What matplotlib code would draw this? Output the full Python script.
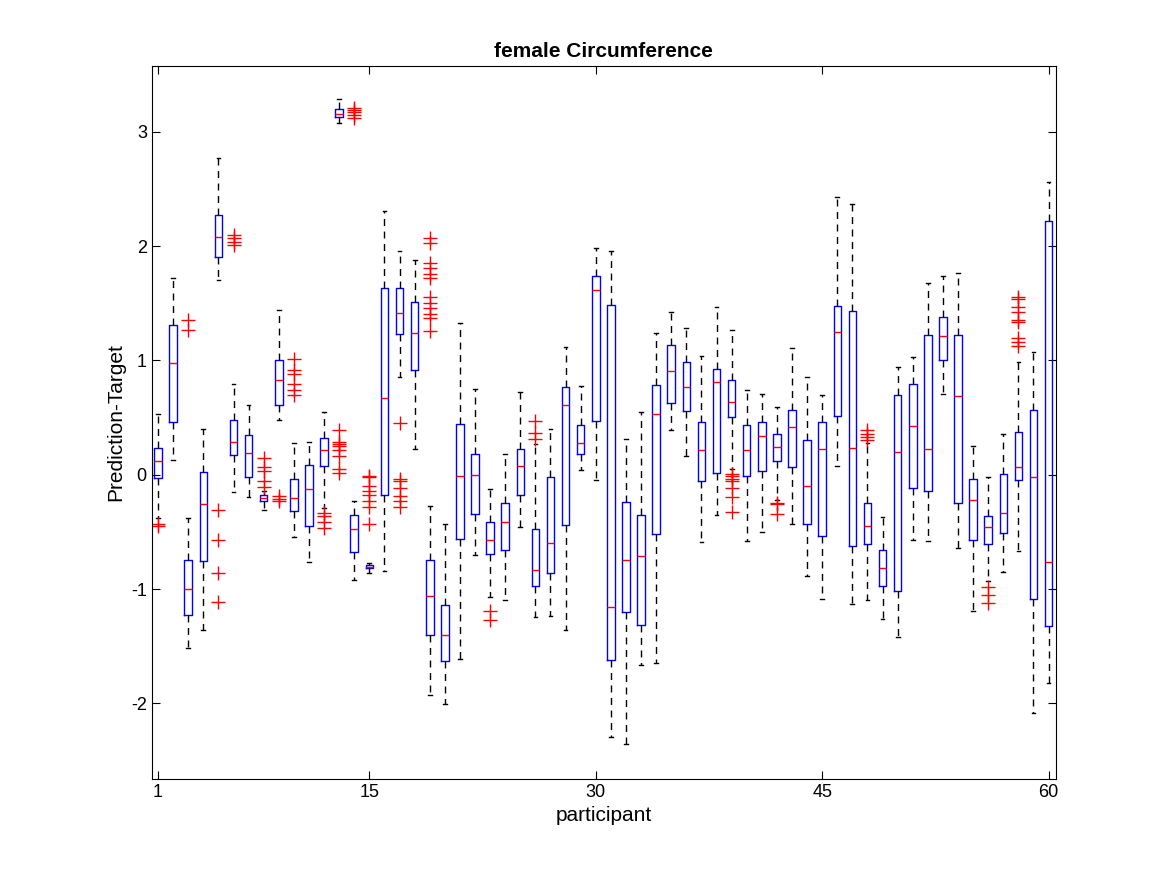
import matplotlib
matplotlib.use("Agg")
import matplotlib.pyplot as plt

plt.rcParams['font.family'] = ['Liberation Sans', 'DejaVu Sans']

# per participant: whisker low, q1, median, q3, whisker high
wlo = [-0.38,0.13,-1.515,-1.36,1.70,-0.154,-0.194,-0.31,0.478,-0.545,
       -0.76,-0.294,3.08,-0.92,-0.86,-0.846,0.853,0.224,-1.93,-2.01,
       -1.61,-0.70,-1.07,-1.093,-0.455,-1.246,-1.24,-1.36,0.043,-0.05,
       -2.296,-2.36,-1.667,-1.65,0.388,0.16,-0.588,-0.354,0.05,-0.583,
       -0.5,-0.22,-0.43,-0.89,-1.09,0.08,-1.13,-1.094,-1.26,-1.42,
       -0.57,-0.58,0.706,-0.644,-1.19,-0.93,-0.85,-0.666,-2.084,-1.82]
q1 = [-0.027,0.458,-1.23,-0.756,1.906,0.177,-0.023,-0.234,0.61,-0.318,
      -0.45,0.074,3.127,-0.68,-0.82,-0.174,1.23,0.92,-1.40,-1.63,
      -0.56,-0.345,-0.693,-0.658,-0.18,-0.977,-0.86,-0.44,0.18,0.47,
      -1.617,-1.197,-1.319,-0.519,0.626,0.557,-0.052,0.014,0.504,-0.012,
      0.03,0.122,0.072,-0.43,-0.54,0.516,-0.625,-0.61,-0.97,-1.02,
      -0.12,-0.14,1.006,-0.247,-0.57,-0.61,-0.506,-0.044,-1.088,-1.325]
med = [0.117,0.98,-1.0,-0.26,2.08,0.284,0.19,-0.207,0.833,-0.207,
       -0.124,0.217,3.16,-0.478,-0.81,0.676,1.415,1.244,-1.06,-1.40,
       -0.014,-0.006,-0.568,-0.417,0.075,-0.835,-0.6,0.61,0.278,1.617,
       -1.157,-0.748,-0.713,0.533,0.904,0.768,0.214,0.814,0.64,0.217,
       0.34,0.247,0.42,-0.1,0.228,1.25,0.23,-0.447,-0.82,0.203,
       0.425,0.222,1.21,0.69,-0.225,-0.46,-0.334,0.069,-0.016,-0.766]
q3 = [0.234,1.31,-0.746,0.02,2.27,0.475,0.348,-0.18,1.0,-0.033,
      0.084,0.324,3.2,-0.35,-0.79,1.63,1.635,1.515,-0.75,-1.137,
      0.443,0.18,-0.417,-0.25,0.223,-0.475,-0.017,0.765,0.435,1.74,
      1.484,-0.238,-0.35,0.788,1.136,0.983,0.464,0.928,0.826,0.432,
      0.46,0.356,0.566,0.306,0.46,1.475,1.43,-0.244,-0.66,0.697,
      0.79,1.225,1.38,1.225,-0.04,-0.36,0.01,0.375,0.566,2.22]
whi = [0.535,1.72,-0.378,0.40,2.77,0.79,0.61,-0.14,1.44,0.278,
       0.29,0.55,3.29,-0.234,-0.77,2.31,1.96,1.88,-0.27,-0.43,
       1.33,0.748,-0.128,0.18,0.72,0.27,0.397,1.12,0.78,1.98,
       1.96,0.31,0.55,1.24,1.42,1.28,1.04,1.467,1.264,0.742,
       0.71,0.59,1.11,0.853,0.694,2.43,2.37,0.28,-0.366,0.94,
       1.03,1.68,1.74,1.766,0.256,-0.02,0.356,0.984,1.075,2.56]
outliers = {
    1: [-0.435,-0.45],
    3: [1.355,1.27],
    5: [-0.31,-0.57,-0.86,-1.11],
    6: [2.1,2.07,2.04,2.01],
    8: [0.144,0.067,0.033,-0.057,-0.107],
    9: [-0.19,-0.21,-0.23],
    10: [1.01,0.913,0.88,0.796,0.746,0.696],
    12: [-0.334,-0.36,-0.41,-0.47],
    13: [0.39,0.29,0.27,0.25,0.22,0.167,0.05,0.017],
    14: [3.21,3.19,3.17,3.15,3.12],
    15: [-0.01,-0.02,-0.094,-0.14,-0.18,-0.23,-0.28,-0.43],
    17: [0.455,-0.04,-0.057,-0.117,-0.19,-0.234,-0.278],
    19: [2.07,2.03,1.856,1.81,1.76,1.72,1.555,1.5,1.46,1.41,1.37,1.26],
    23: [-1.19,-1.275],
    26: [0.47,0.365,0.313],
    39: [0.01,-0.014,-0.035,-0.055,-0.12,-0.194,-0.325],
    42: [-0.247,-0.26,-0.34],
    48: [0.39,0.36,0.33,0.3],
    56: [-0.98,-1.056,-1.12],
    58: [1.556,1.54,1.47,1.42,1.353,1.334,1.2,1.166,1.125],
}
xticks = [1, 15, 30, 45, 60]

stats = []
for i in range(60):
    stats.append(dict(whislo=wlo[i], q1=q1[i], med=med[i], q3=q3[i],
                      whishi=whi[i], fliers=outliers.get(i + 1, [])))

fig = plt.figure(figsize=(11.67, 8.75), dpi=100)
ax = fig.add_axes([0.13, 0.11, 0.775, 0.815])
ax.bxp(stats, positions=range(1, 61), widths=0.5, showfliers=True,
       boxprops=dict(color='#0000ff', linewidth=1.0),
       medianprops=dict(color='#ff0000', linewidth=1.0),
       whiskerprops=dict(color='black', linestyle=(0, (5, 4)), linewidth=1.0),
       capprops=dict(color='black', linewidth=1.0),
       capwidths=0.25,
       flierprops=dict(marker='+', markeredgecolor='#ff0000', markersize=10,
                       linestyle='none', markeredgewidth=1.0))
ax.set_xlim(0.58, 60.5)
ax.set_ylim(-2.66, 3.58)
ax.set_xticks(xticks)
ax.set_xticklabels([str(t) for t in xticks])
ax.set_yticks([-2, -1, 0, 1, 2, 3])
ax.set_yticklabels(['-2', '-1', '0', '1', '2', '3'])
ax.tick_params(direction='in', top=True, right=True, labelsize=13, length=6)
for s in ax.spines.values():
    s.set_linewidth(0.8)
ax.set_title('female Circumference', fontsize=15, fontweight='bold')
ax.set_xlabel('participant', fontsize=15)
ax.set_ylabel('Prediction-Target', fontsize=15)
fig.savefig('out.png', dpi=100)
